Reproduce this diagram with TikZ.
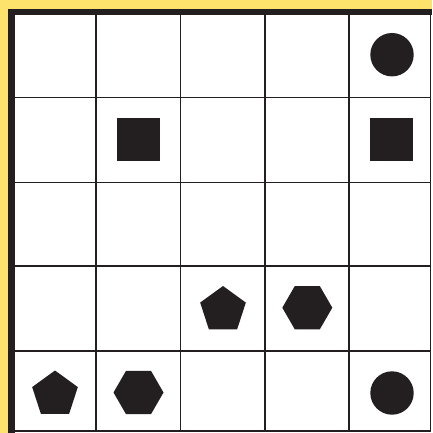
\documentclass[tikz,border=0pt]{standalone}
\usetikzlibrary{shapes.geometric}
\definecolor{frameyellow}{RGB}{253,227,107}
\definecolor{ink}{RGB}{35,31,32}
\tikzset{
  gridline/.style={ink, line width=1.3pt},
  token/.style={fill=ink, draw=none, inner sep=0pt, outer sep=0pt},
  dot/.style={token, circle, minimum size=43.4pt},
  block/.style={token, rectangle, minimum size=43pt},
  penta/.style={token, regular polygon, regular polygon sides=5, minimum size=48pt},
  hexa/.style={token, regular polygon, regular polygon sides=6, minimum size=50pt}
}
\begin{document}
\begin{tikzpicture}[x=1pt,y=-1pt]
\useasboundingbox (0,0) rectangle (432,433);
\fill[white] (0,0) rectangle (432,433);
% yellow frame strips
\fill[frameyellow] (0,0) rectangle (432,9);
\fill[frameyellow] (0,0) rectangle (7.5,433);
% thick dark frame
\fill[ink] (7.5,9) rectangle (432,15.5);
\fill[ink] (7.5,9) rectangle (15,433);
% grid lines
\foreach \x in {96,180.7,265,349} \draw[gridline] (\x,15) -- (\x,431);
\foreach \y in {97.3,182.3,266,351} \draw[gridline] (15,\y) -- (430.5,\y);
\draw[gridline] (430.5,15) -- (430.5,431);
\draw[gridline] (15,431) -- (430.5,431);
% tokens
\node[dot]   (c15) at (392,54.7) {};
\node[block] (s22) at (138.3,139.5) {};
\node[block] (s25) at (391.5,139.5) {};
\node[penta] (p43) at (223,310) {};
\node[hexa]  (h44) at (307.3,307.7) {};
\node[penta] (p51) at (55,394.5) {};
\node[hexa]  (h52) at (138.5,392.5) {};
\node[dot]   (c55) at (392,393) {};
\end{tikzpicture}
\end{document}
